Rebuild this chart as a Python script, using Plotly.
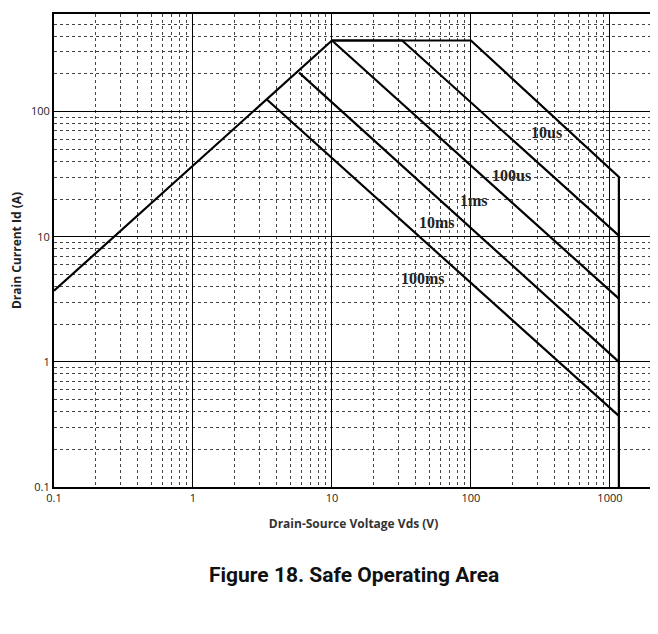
import math
import plotly.graph_objects as go

rds_v = [0.1, 10]
rds_i = [3.7, 370]
curves = {
    "100ms": ([3.4, 1160], [125, 0.37]),
    "10ms": ([5.8, 1160], [205, 1.0]),
    "1ms": ([10, 1160], [370, 3.2]),
    "100us": ([10, 32, 1160], [370, 370, 10.2]),
    "10us": ([10, 100, 1160, 1160], [370, 370, 30, 0.1]),
}
labels = ["10us", "100us", "1ms", "10ms", "100ms"]
label_v = [350, 195, 105, 57, 45]
label_i = [68, 31, 19.4, 12.9, 4.6]

fig = go.Figure()
fig.add_trace(go.Scatter(x=rds_v, y=rds_i, mode="lines", line=dict(color="black", width=2.2)))
for k, (v, i) in curves.items():
    fig.add_trace(go.Scatter(x=v, y=i, mode="lines", line=dict(color="black", width=2.2)))
for t, v, i in zip(labels, label_v, label_i):
    fig.add_annotation(x=math.log10(v), y=math.log10(i), xref="x", yref="y", text="<b>%s</b>" % t, showarrow=False,
                       font=dict(family="Liberation Serif", size=16, color="#222"))

ax = dict(type="log", showline=True, linecolor="black", linewidth=2, mirror=True,
          gridcolor="black", gridwidth=1, zeroline=False, ticks="", dtick=1, automargin=False,
          tickfont=dict(family="Open Sans", size=11, color="#222"),
          minor=dict(showgrid=True, dtick="D1", gridcolor="#444", griddash="dot", gridwidth=1))
fig.update_xaxes(**ax, range=[-1, 3.31],
                 title=dict(text="<b>Drain-Source Voltage Vds (V)</b>", font=dict(family="Open Sans", size=12, color="#333")))
fig.update_yaxes(**ax, range=[-1, 2.78],
                 title=dict(text="<b>Drain Current Id (A)</b>", font=dict(family="Open Sans", size=12, color="#222"), standoff=8))
fig.add_annotation(x=0.5, y=-0.215, xref="paper", yref="paper", text="<b>Figure 18. Safe Operating Area</b>",
                   showarrow=False, font=dict(family="Liberation Sans Narrow, Roboto", size=21, color="#111"))
fig.update_layout(width=658, height=634, showlegend=False, plot_bgcolor="white", paper_bgcolor="white",
                  margin=dict(l=46, r=13, t=6, b=155))
fig.write_html("out.html")
